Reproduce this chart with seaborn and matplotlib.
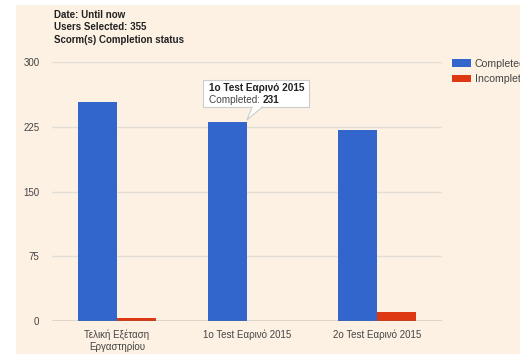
import matplotlib
matplotlib.use("Agg")
import matplotlib.pyplot as plt
from matplotlib.patches import Rectangle, Polygon
import pandas as pd
import seaborn as sns

# Scorm completion counts per test
tests = ["Τελική Εξέταση\nΕργαστηρίου", "1o Test Εαρινό 2015", "2o Test Εαρινό 2015"]
completed = [254, 231, 221]
incompleted = [4, 0, 11]
series = ["Completed", "Incompleted"]
header = ["Date: Until now", "Users Selected: 355", "Scorm(s) Completion status"]
yticks = [0, 75, 150, 225, 300]

BG = "#fcf1e3"
BLUE = "#3366cc"
RED = "#dc3912"

sns.set_theme(style="white")
plt.rcParams["font.family"] = ["Liberation Sans", "DejaVu Sans"]

df = pd.DataFrame({
    "test": tests * 2,
    "status": [series[0]] * len(tests) + [series[1]] * len(tests),
    "count": completed + incompleted,
})

W, H = 520, 354
fig = plt.figure(figsize=(W / 100, H / 100), dpi=100, facecolor="white")
fig.patches.append(Rectangle((16 / W, 0), 1, 1 - 5 / H, transform=fig.transFigure,
                             facecolor=BG, edgecolor="none", zorder=-10))

ax = fig.add_axes([52 / W, 1 - 321 / H, 390 / W, 259 / H])
ax.set_facecolor("none")

sns.barplot(data=df, x="test", y="count", hue="status", palette=[BLUE, RED],
            width=0.6, saturation=1, ax=ax, legend=False, zorder=3,
            linewidth=0, edgecolor="none")

ax.set_xlim(-0.5, len(tests) - 0.5)
ax.set_ylim(0, 300)
ax.set_yticks(yticks)
ax.set_yticklabels([str(v) for v in yticks])
ax.set_xlabel("")
ax.set_ylabel("")
for s in ax.spines.values():
    s.set_visible(False)
for v in yticks[1:]:
    ax.axhline(v, color="#e2ddd5", lw=1, zorder=1)
ax.axhline(0, color="#666666", lw=1, zorder=4)
ax.tick_params(axis="both", length=0, labelsize=7, labelcolor="#444444")
ax.tick_params(axis="y", pad=9)
ax.tick_params(axis="x", pad=6)

# header lines
for i, line in enumerate(header):
    fig.text(54 / W, 1 - (15 + 12.5 * i) / H, line, fontsize=7, fontweight="bold",
             color="#222222", va="center", ha="left")

# legend
handles = [Rectangle((0, 0), 1, 1, facecolor=c, edgecolor="none") for c in (BLUE, RED)]
fig.legend(handles, series, loc="upper left", bbox_to_anchor=(452 / W, 1 - 59 / H),
           frameon=False, fontsize=7.6, handlelength=1.8, handleheight=0.75,
           handletextpad=0.35, labelspacing=0.5, borderpad=0, borderaxespad=0,
           labelcolor="#444444")

# tooltip over the second test's completed bar
idx = 1
bar_right = idx + 0.0
tip_y = completed[idx]
box_x0, box_x1 = 0.66, 1.48
box_y0, box_y1 = 248, 279
ax.add_patch(Rectangle((box_x0, box_y0), box_x1 - box_x0, box_y1 - box_y0,
                       facecolor="white", edgecolor="#cccccc", lw=0.8, zorder=6))
ax.add_patch(Polygon([(bar_right + 0.04, box_y0 + 0.4), (bar_right + 0.12, box_y0 + 0.4),
                      (bar_right, tip_y + 2)], closed=True,
                     facecolor="white", edgecolor="none", zorder=7))
ax.plot([bar_right + 0.12, bar_right, bar_right + 0.04],
        [box_y0, tip_y + 2, box_y0], color="#cccccc", lw=0.8, zorder=7)
ax.text(box_x0 + 0.05, 270, tests[idx], fontsize=7.2, fontweight="bold",
        color="#222222", va="center", ha="left", zorder=8)
lbl = ax.text(box_x0 + 0.05, 256, f"{series[0]}: ", fontsize=7.2,
              color="#444444", va="center", ha="left", zorder=8)
fig.canvas.draw()
bb = lbl.get_window_extent().transformed(ax.transData.inverted())
ax.text(bb.x1, 256, str(completed[idx]), fontsize=7.2, fontweight="bold",
        color="#222222", va="center", ha="left", zorder=8)

fig.savefig("out.png", dpi=100, facecolor="white")
